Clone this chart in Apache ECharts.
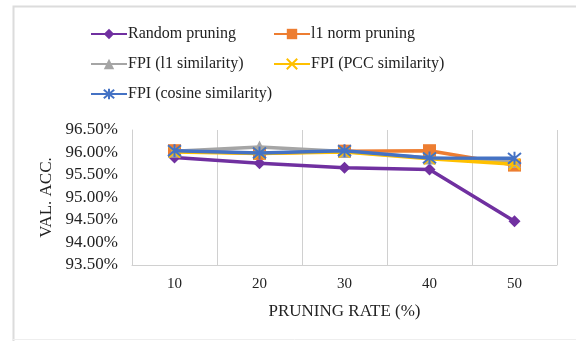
<!DOCTYPE html>
<html>
<head>
<meta charset="utf-8">
<script src="https://cdn.jsdelivr.net/npm/echarts@6/dist/echarts.min.js"></script>
<style>html,body{margin:0;padding:0;background:#fff}#c{width:576px;height:341px}</style>
</head>
<body>
<div id="c"></div>
<script>
const categories = ['10', '20', '30', '40', '50'];
const randomPruning = [95.89, 95.76, 95.66, 95.62, 94.47];
const l1NormPruning = [96.04, 95.98, 96.03, 96.04, 95.72];
const fpiL1 = [96.03, 96.12, 96.02, 95.88, 95.80];
const fpiPCC = [96.01, 95.98, 96.01, 95.86, 95.74];
const fpiCosine = [96.04, 95.99, 96.04, 95.88, 95.87];
const yTicks = { min: 93.5, max: 96.5, interval: 0.5 };

const FONT = '"Liberation Serif", "DejaVu Serif", serif';
const xPath = 'path://M0,0L10,10M10,0L0,10';
const starPath = 'path://M0,0L10,10M10,0L0,10M5,-1L5,11';

const names = ['Random pruning', 'l1 norm pruning', 'FPI (l1 similarity)', 'FPI (PCC similarity)', 'FPI (cosine similarity)'];
const colors = ['#7030A0', '#ED7D31', '#A5A5A5', '#FFC000', '#4472C4'];
const legendPos = [[90, 26], [273, 26], [90, 56], [273, 56], [90, 86]];

function mkLegend(i) {
  return {
    data: [names[i]],
    left: legendPos[i][0], top: legendPos[i][1],
    padding: 0,
    itemWidth: 36, itemHeight: 13, itemGap: 0,
    textStyle: { fontFamily: FONT, fontSize: 16, color: '#222', padding: [0, 0, 0, -4] },
    selectedMode: false
  };
}

const chart = echarts.init(document.getElementById('c'));
chart.setOption({
  animation: false,
  backgroundColor: '#fff',
  legend: [0, 1, 2, 3, 4].map(mkLegend),
  grid: { left: 132, right: 19, top: 130, bottom: 76 },
  graphic: [
    { type: 'polyline', shape: { points: [[13.5, 341], [13.5, 6.5], [576, 6.5]] }, style: { stroke: '#dcdcdc', lineWidth: 2, fill: null }, z: -1 },
    { type: 'line', shape: { x1: 13, y1: 339.5, x2: 576, y2: 339.5 }, style: { stroke: '#eeeeee', lineWidth: 1 }, z: -1 }
  ],
  xAxis: {
    type: 'category', data: categories, boundaryGap: true,
    name: 'PRUNING RATE (%)', nameLocation: 'middle', nameGap: 38,
    nameTextStyle: { fontFamily: FONT, fontSize: 17, color: '#222' },
    axisLine: { lineStyle: { color: '#d0d0d0', width: 1 } },
    axisTick: { show: false },
    axisLabel: { fontFamily: FONT, fontSize: 15, color: '#222', margin: 12 },
    splitLine: { show: true, lineStyle: { color: '#d0d0d0', width: 1 } }
  },
  yAxis: {
    type: 'value', min: yTicks.min, max: yTicks.max, interval: yTicks.interval,
    name: 'VAL. ACC.', nameLocation: 'middle', nameGap: 74, nameRotate: 90,
    nameTextStyle: { fontFamily: FONT, fontSize: 17, color: '#222' },
    axisLine: { show: true, lineStyle: { color: '#d0d0d0', width: 1 } },
    axisTick: { show: false },
    splitLine: { show: false },
    axisLabel: { fontFamily: FONT, fontSize: 17, color: '#222', margin: 14, formatter: v => v.toFixed(2) + '%' }
  },
  series: [
    { name: names[0], type: 'line', data: randomPruning, color: colors[0], symbol: 'diamond', symbolSize: 12, lineStyle: { width: 3.5 }, z: 2 },
    { name: names[1], type: 'line', data: l1NormPruning, color: colors[1], symbol: 'rect', symbolSize: 13, lineStyle: { width: 3.5 }, z: 3 },
    { name: names[2], type: 'line', data: fpiL1, color: colors[2], symbol: 'triangle', symbolSize: 13, lineStyle: { width: 3.5 }, z: 4 },
    { name: names[3], type: 'line', data: fpiPCC, color: colors[3], symbol: xPath, symbolSize: 11, lineStyle: { width: 3.5 }, itemStyle: { borderColor: colors[3], borderWidth: 2 }, z: 5 },
    { name: names[4], type: 'line', data: fpiCosine, color: colors[4], symbol: starPath, symbolSize: 13, lineStyle: { width: 3.5 }, itemStyle: { borderColor: colors[4], borderWidth: 2 }, z: 6 }
  ]
});
</script>
</body>
</html>
